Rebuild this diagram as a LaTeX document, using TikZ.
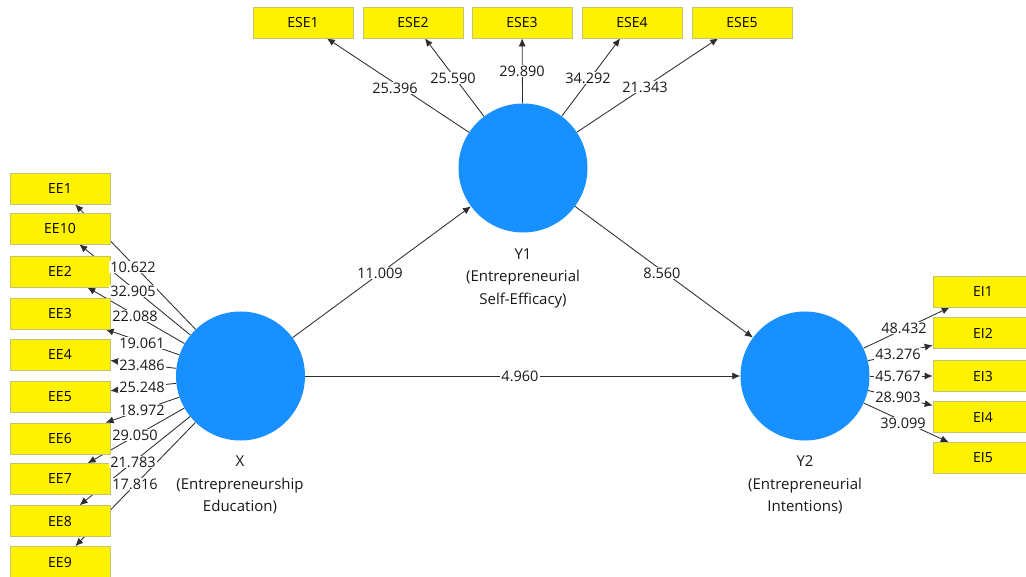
\documentclass[tikz,border=0pt]{standalone}
\usepackage{fontspec}
\setmainfont{Open Sans}
\usetikzlibrary{arrows.meta}
\definecolor{lvblue}{RGB}{24,144,255}
\definecolor{boxedge}{RGB}{196,196,110}
\definecolor{linegray}{RGB}{45,45,45}
\definecolor{txtgray}{RGB}{25,25,25}
\pgfdeclarelayer{bg}
\pgfsetlayers{bg,main}
\begin{document}
\begin{tikzpicture}[x=1pt,y=-1pt,
  lv/.style={circle,fill=lvblue,minimum size=129pt,inner sep=0pt},
  ind/.style={rectangle,fill=yellow,draw=boxedge,line width=0.6pt,minimum width=100pt,minimum height=31pt,inner sep=0pt,text=black,font=\fontsize{14}{16}\selectfont},
  conn/.style={draw=linegray,line width=0.85pt,-{Latex[length=8pt,width=7pt]}},
  val/.style={fill=white,inner sep=1pt,text=txtgray,font=\fontsize{14.5}{16}\selectfont},
  lvcap/.style={align=center,text=txtgray,font=\fontsize{15}{22.5}\selectfont}]
\useasboundingbox (0,0) rectangle (1026,577);
\clip (0,0) rectangle (1026,577);

% latent variables
\node[lv] (X) at (240.5,376) {};
\node[lv] (Y1) at (523,168) {};
\node[lv] (Y2) at (805,376) {};

\node[lvcap] (capX) at (240,485) {X\\(Entrepreneurship\\Education)};
\node[lvcap] (capY1) at (523,278) {Y1\\(Entrepreneurial\\Self-Efficacy)};
\node[lvcap] (capY2) at (805,485) {Y2\\(Entrepreneurial\\Intentions)};

% ESE indicators
\node[ind] (ESE1) at (303,22.5) {ESE1};
\node[ind] (ESE2) at (413,22.5) {ESE2};
\node[ind] (ESE3) at (522,22.5) {ESE3};
\node[ind] (ESE4) at (632,22.5) {ESE4};
\node[ind] (ESE5) at (742,22.5) {ESE5};

% EE indicators
\node[ind] (EE1) at (60,188.5) {EE1};
\node[ind] (EE10) at (60,228.5) {EE10};
\node[ind] (EE2) at (60,271.5) {EE2};
\node[ind] (EE3) at (60,313.5) {EE3};
\node[ind] (EE4) at (60,354.5) {EE4};
\node[ind] (EE5) at (60,396.5) {EE5};
\node[ind] (EE6) at (60,438.5) {EE6};
\node[ind] (EE7) at (60,479) {EE7};
\node[ind] (EE8) at (60,521) {EE8};
\node[ind] (EE9) at (60,562) {EE9};

% EI indicators
\node[ind] (EI1) at (983,291.5) {EI1};
\node[ind] (EI2) at (983,333) {EI2};
\node[ind] (EI3) at (983,376) {EI3};
\node[ind] (EI4) at (983,417) {EI4};
\node[ind] (EI5) at (983,458) {EI5};

% connectors (behind boxes and labels)
\begin{pgfonlayer}{bg}
\fill[white] (0,0) rectangle (1026,577);
\foreach \t in {ESE1,ESE2,ESE3,ESE4,ESE5} \draw[conn] (Y1) -- (\t);
\foreach \t in {EE1,EE10,EE2,EE3,EE4,EE5,EE6,EE7,EE8,EE9} \draw[conn] (X) -- (\t);
\foreach \t in {EI1,EI2,EI3,EI4,EI5} \draw[conn] (Y2) -- (\t);
\draw[conn] (X) -- (Y1);
\draw[conn] (Y1) -- (Y2);
\draw[conn] (X) -- (Y2);
\end{pgfonlayer}

% path values
\node[val] (vXY1) at (380,273) {11.009};
\node[val] (vY1Y2) at (662,273) {8.560};
\node[val] (vXY2) at (520,376) {4.960};

% ESE values
\node[val] (vESE1) at (395,88) {25.396};
\node[val] (vESE2) at (453,78) {25.590};
\node[val] (vESE3) at (522,71) {29.890};
\node[val] (vESE4) at (588,78) {34.292};
\node[val] (vESE5) at (645,87) {21.343};

% EE values
\node[val] (vEE1) at (133,267) {10.622};
\node[val] (vEE10) at (133,291) {32.905};
\node[val] (vEE2) at (135,316) {22.088};
\node[val] (vEE3) at (142,343) {19.061};
\node[val] (vEE4) at (142,365) {23.486};
\node[val] (vEE5) at (142,387) {25.248};
\node[val] (vEE6) at (142,410) {18.972};
\node[val] (vEE7) at (135,435) {29.050};
\node[val] (vEE8) at (133,462) {21.783};
\node[val] (vEE9) at (135,484) {17.816};

% EI values
\node[val] (vEI1) at (904,328) {48.432};
\node[val] (vEI2) at (898,354) {43.276};
\node[val] (vEI3) at (898,376) {45.767};
\node[val] (vEI4) at (898,397) {28.903};
\node[val] (vEI5) at (903,423) {39.099};
\end{tikzpicture}
\end{document}
